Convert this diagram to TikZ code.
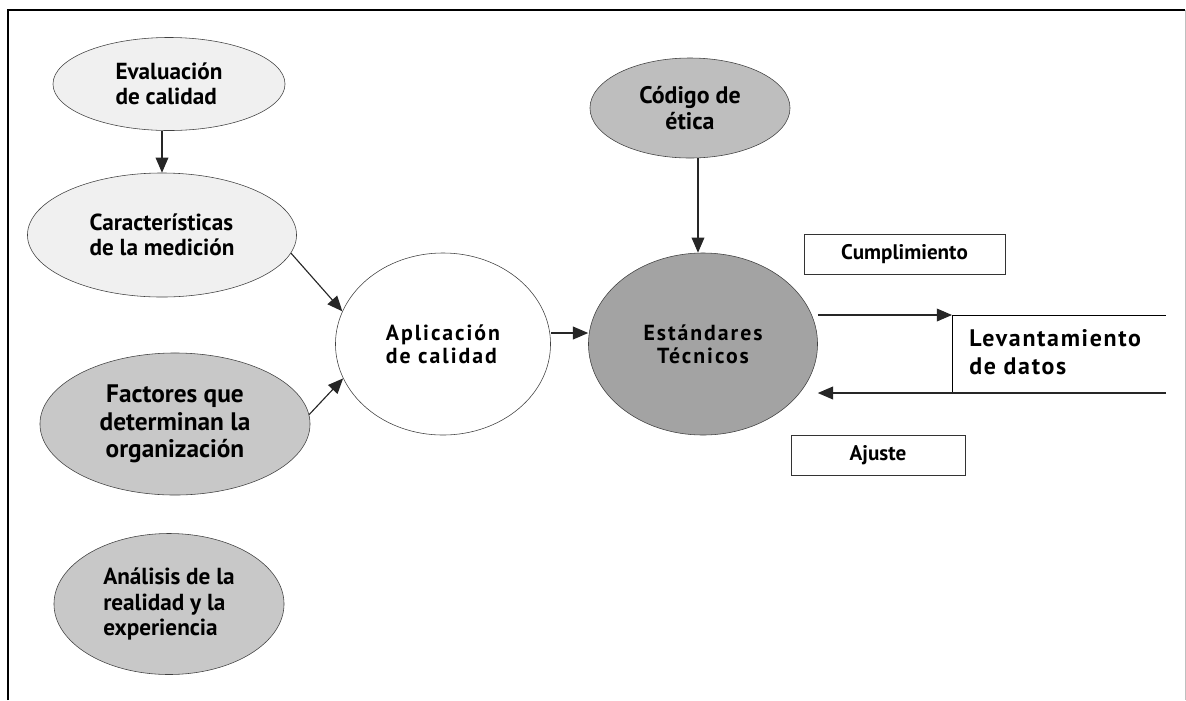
\documentclass[tikz,border=0pt]{standalone}
\usepackage{fontspec}
\setmainfont{PT Sans}
\newfontfamily\spacedfont{PT Sans}[LetterSpace=9]
\usepackage{xcolor}
\usetikzlibrary{arrows.meta,positioning,shapes.geometric}

\definecolor{palegray}{HTML}{F0F0F0}
\definecolor{midgray}{HTML}{C8C8C8}
\definecolor{codegray}{HTML}{BEBEBE}
\definecolor{darkgray}{HTML}{A3A3A3}

\begin{document}
\begin{tikzpicture}[
    x=0.025cm, y=-0.025cm,
    oval/.style={draw=black!75, ellipse, inner sep=0pt, font=\bfseries\fontsize{16.5}{18}\selectfont},
    centreoval/.style={oval, font=\spacedfont\bfseries\fontsize{15.5}{16.5}\selectfont},
    labelbox/.style={draw=black!80, rectangle, inner sep=0pt, font=\bfseries\fontsize{15}{17}\selectfont},
    arrow/.style={-{Triangle[length=3.8mm,width=3.2mm]}, thick, black!85}
]
\useasboundingbox (0,0) rectangle (1186,700);
% frame
\draw[line width=1.6pt] (8,700) -- (8,10) -- (1185,10);
\draw[black!25] (1185,10) -- (1185,700);

% left column
\node[oval, fill=palegray, minimum width=5.8cm, minimum height=2.325cm, align=left] (eval) at (169,84) {Evaluación\\de calidad};
\node[oval, fill=palegray, minimum width=6.725cm, minimum height=3.1cm, align=left] (carac) at (162,235) {Características\\de la medición};
\node[oval, fill=midgray, minimum width=6.75cm, minimum height=3.55cm, align=center, font=\bfseries\fontsize{18}{19.5}\selectfont] (fact) at (175,424) {Factores que\\determinan la\\organización};
\node[oval, fill=midgray, minimum width=5.75cm, minimum height=3.525cm, align=left] (anal) at (169,604) {Análisis de la\\realidad y la\\experiencia};

% centre
\node[centreoval, fill=white, minimum width=5.375cm, minimum height=4.55cm, align=left] (aplic) at (443,344) {Aplicación\\de calidad};
\node[centreoval, fill=darkgray, minimum width=5.725cm, minimum height=4.55cm, align=center] (estand) at (703,344) {Estándares\\Técnicos};
\node[oval, fill=codegray, minimum width=5cm, minimum height=2.5cm, align=center, font=\bfseries\fontsize{17}{19}\selectfont] (codigo) at (690,108) {Código de\\ética};

% right side
\node[labelbox, minimum width=5.025cm, minimum height=1cm] (cumpl) at (904.5,254) {Cumplimiento};
\node[labelbox, minimum width=4.35cm, minimum height=1cm] (ajuste) at (878,455) {Ajuste};
\node[anchor=west, align=left, inner sep=0pt, font={\addfontfeature{LetterSpace=7}\bfseries\fontsize{17}{19.5}\selectfont}] (levant) at (969,352) {Levantamiento\\de datos};
\coordinate (topend) at (1166,315);
\coordinate (botend) at (1166,393);
\coordinate (split) at (952,315);
\coordinate (splitlow) at (952,393);

% connectors
\draw[arrow] (eval.south -| carac.north) -- (carac.north);
\draw[arrow] (carac.-8) -- (aplic.162);
\draw[arrow] (fact.4) -- (aplic.-161);
\draw[arrow] (aplic.east |- 0,333) -- (estand.west |- 0,333);
\draw[arrow] (codigo.south -| 698,0) -- (estand.north -| 698,0);
\draw[arrow] (estand.east |- 0,315) -- (split);
\draw (split) -- (topend);
\draw (split) -- (splitlow);
\draw[arrow] (botend) -- (estand.east |- 0,393);
\end{tikzpicture}
\end{document}
